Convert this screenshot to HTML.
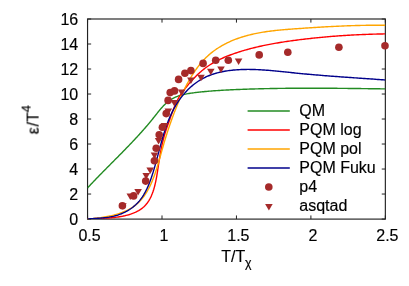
<!DOCTYPE html>
<html><head><meta charset="utf-8"><title>plot</title>
<style>
html,body{margin:0;padding:0;background:#fff;}
svg{display:block;}
text{font-family:"Liberation Sans",sans-serif;font-size:16px;fill:#000;stroke:#000;stroke-width:0.16px;}
</style></head>
<body>
<svg width="409" height="286" viewBox="0 0 409 286">
<rect width="409" height="286" fill="#fff"/>
<defs><clipPath id="c"><rect x="87.55" y="19.0" width="297.8" height="200.1"/></clipPath></defs>
<rect x="87.55" y="19.0" width="297.8" height="200.1" fill="none" stroke="#222" stroke-width="1.15"/>
<path d="M87.55,219.05 h3.6 M385.35,219.05 h-3.6 M87.55,194.04 h3.6 M385.35,194.04 h-3.6 M87.55,169.04 h3.6 M385.35,169.04 h-3.6 M87.55,144.03 h3.6 M385.35,144.03 h-3.6 M87.55,119.03 h3.6 M385.35,119.03 h-3.6 M87.55,94.02 h3.6 M385.35,94.02 h-3.6 M87.55,69.01 h3.6 M385.35,69.01 h-3.6 M87.55,44.01 h3.6 M385.35,44.01 h-3.6 M87.55,19.00 h3.6 M385.35,19.00 h-3.6 M87.55,219.05 v-3.6 M87.55,19.0 v3.6 M162.00,219.05 v-3.6 M162.00,19.0 v3.6 M236.45,219.05 v-3.6 M236.45,19.0 v3.6 M310.90,219.05 v-3.6 M310.90,19.0 v3.6 M385.35,219.05 v-3.6 M385.35,19.0 v3.6" stroke="#222" stroke-width="1.0" fill="none"/>
<g fill="none" stroke-width="1.4" stroke-linejoin="round" clip-path="url(#c)">
<path d="M87.55,187.90 L88.32,187.07 L89.10,186.24 L89.88,185.41 L90.66,184.58 L91.44,183.76 L92.22,182.93 L93.00,182.11 L93.78,181.29 L94.57,180.48 L95.35,179.66 L96.14,178.84 L96.92,178.03 L97.71,177.22 L98.50,176.41 L99.29,175.60 L100.08,174.79 L100.87,173.99 L101.66,173.18 L102.45,172.38 L103.24,171.57 L104.03,170.77 L104.82,169.97 L105.62,169.17 L106.41,168.37 L107.20,167.57 L108.00,166.77 L108.79,165.97 L109.58,165.17 L110.38,164.37 L111.17,163.57 L111.96,162.77 L112.76,161.98 L113.55,161.18 L114.34,160.38 L115.14,159.58 L115.93,158.78 L116.72,157.99 L117.51,157.19 L118.30,156.39 L119.09,155.59 L119.88,154.79 L120.67,153.99 L121.46,153.19 L122.25,152.39 L123.04,151.58 L123.82,150.78 L124.61,149.98 L125.39,149.17 L126.18,148.36 L126.96,147.56 L127.74,146.75 L128.52,145.94 L129.30,145.13 L130.08,144.31 L130.86,143.50 L131.63,142.68 L132.41,141.87 L133.18,141.05 L133.95,140.23 L134.72,139.41 L135.49,138.58 L136.26,137.76 L137.02,136.93 L137.78,136.10 L138.55,135.26 L139.31,134.43 L140.06,133.59 L140.82,132.75 L141.58,131.91 L142.33,131.07 L143.08,130.22 L143.83,129.37 L144.57,128.52 L145.32,127.67 L146.06,126.81 L146.80,125.95 L147.54,125.08 L148.27,124.22 L149.00,123.35 L149.73,122.48 L150.46,121.60 L151.19,120.72 L151.91,119.84 L152.63,118.95 L153.34,118.06 L154.06,117.17 L154.77,116.27 L155.48,115.38 L156.19,114.48 L156.90,113.58 L157.61,112.68 L158.32,111.79 L159.04,110.91 L159.77,110.03 L160.50,109.16 L161.23,108.30 L161.98,107.46 L162.74,106.63 L163.50,105.82 L164.28,105.02 L165.08,104.24 L165.89,103.49 L166.71,102.76 L167.55,102.05 L168.41,101.37 L169.29,100.72 L170.19,100.09 L171.11,99.49 L172.05,98.93 L173.00,98.39 L173.97,97.88 L174.96,97.40 L175.97,96.95 L176.99,96.53 L178.02,96.14 L179.07,95.77 L180.14,95.43 L181.21,95.12 L182.30,94.83 L183.39,94.56 L184.50,94.30 L185.61,94.07 L186.73,93.85 L187.86,93.65 L188.99,93.47 L190.13,93.29 L191.26,93.12 L192.41,92.97 L193.55,92.82 L194.69,92.68 L195.83,92.54 L196.97,92.40 L198.11,92.27 L199.24,92.15 L200.38,92.02 L201.52,91.90 L202.65,91.79 L203.78,91.68 L204.91,91.57 L206.05,91.46 L207.18,91.36 L208.31,91.26 L209.43,91.17 L210.56,91.08 L211.69,90.99 L212.82,90.90 L213.94,90.81 L215.07,90.73 L216.19,90.65 L217.32,90.58 L218.44,90.50 L219.57,90.43 L220.69,90.36 L221.81,90.30 L222.94,90.23 L224.06,90.17 L225.18,90.10 L226.30,90.04 L227.43,89.99 L228.55,89.93 L229.67,89.87 L230.79,89.82 L231.92,89.77 L233.04,89.72 L234.16,89.67 L235.28,89.62 L236.41,89.57 L237.53,89.52 L238.65,89.48 L239.78,89.43 L240.90,89.39 L242.02,89.35 L243.15,89.30 L244.27,89.26 L245.40,89.22 L246.52,89.18 L247.65,89.14 L248.77,89.11 L249.90,89.07 L251.02,89.03 L252.15,89.00 L253.28,88.96 L254.40,88.93 L255.53,88.90 L256.65,88.87 L257.78,88.84 L258.91,88.81 L260.03,88.78 L261.16,88.75 L262.29,88.72 L263.42,88.70 L264.54,88.67 L265.67,88.65 L266.80,88.62 L267.93,88.60 L269.05,88.58 L270.18,88.55 L271.31,88.53 L272.44,88.51 L273.57,88.49 L274.70,88.47 L275.82,88.45 L276.95,88.44 L278.08,88.42 L279.21,88.40 L280.34,88.39 L281.47,88.37 L282.60,88.36 L283.73,88.35 L284.86,88.33 L285.99,88.32 L287.12,88.31 L288.25,88.30 L289.38,88.29 L290.51,88.28 L291.64,88.27 L292.77,88.26 L293.90,88.25 L295.03,88.25 L296.16,88.24 L297.29,88.23 L298.42,88.23 L299.55,88.22 L300.68,88.22 L301.81,88.22 L302.94,88.21 L304.07,88.21 L305.20,88.21 L306.33,88.21 L307.46,88.20 L308.59,88.20 L309.72,88.20 L310.85,88.20 L311.98,88.20 L313.11,88.21 L314.24,88.21 L315.37,88.21 L316.50,88.21 L317.64,88.22 L318.77,88.22 L319.90,88.22 L321.03,88.23 L322.16,88.23 L323.29,88.24 L324.42,88.24 L325.55,88.25 L326.68,88.25 L327.81,88.26 L328.94,88.27 L330.07,88.27 L331.20,88.28 L332.33,88.29 L333.46,88.30 L334.59,88.31 L335.72,88.32 L336.85,88.32 L337.98,88.33 L339.11,88.34 L340.24,88.35 L341.37,88.36 L342.50,88.38 L343.63,88.39 L344.76,88.40 L345.89,88.41 L347.02,88.42 L348.15,88.43 L349.28,88.44 L350.41,88.46 L351.54,88.47 L352.67,88.48 L353.79,88.49 L354.92,88.51 L356.05,88.52 L357.18,88.53 L358.31,88.55 L359.44,88.56 L360.57,88.57 L361.69,88.59 L362.82,88.60 L363.95,88.62 L365.08,88.63 L366.21,88.65 L367.33,88.66 L368.46,88.68 L369.59,88.69 L370.71,88.70 L371.84,88.72 L372.97,88.73 L374.09,88.75 L375.22,88.76 L376.35,88.78 L377.47,88.79 L378.60,88.81 L379.72,88.82 L380.85,88.84 L381.98,88.85 L383.10,88.87 L384.23,88.89 L385.35,88.90" stroke="#228b22"/>
<path d="M87.50,219.00 L88.82,218.90 L90.15,218.82 L91.48,218.74 L92.81,218.67 L94.14,218.60 L95.48,218.55 L96.81,218.49 L98.15,218.44 L99.48,218.38 L100.82,218.33 L102.16,218.28 L103.50,218.22 L104.84,218.16 L106.18,218.09 L107.52,218.01 L108.86,217.93 L110.19,217.83 L111.53,217.73 L112.87,217.61 L114.20,217.48 L115.53,217.33 L116.86,217.17 L118.19,216.98 L119.52,216.78 L120.84,216.56 L122.16,216.32 L123.48,216.05 L124.80,215.76 L126.11,215.44 L127.42,215.09 L128.73,214.72 L130.02,214.31 L131.31,213.88 L132.59,213.41 L133.85,212.91 L135.09,212.37 L136.31,211.80 L137.51,211.19 L138.67,210.54 L139.81,209.85 L140.91,209.12 L141.98,208.34 L143.00,207.53 L143.99,206.67 L144.92,205.76 L145.81,204.81 L146.65,203.81 L147.45,202.77 L148.20,201.70 L148.91,200.59 L149.58,199.44 L150.22,198.27 L150.81,197.07 L151.38,195.84 L151.90,194.59 L152.40,193.33 L152.87,192.05 L153.30,190.75 L153.72,189.45 L154.10,188.14 L154.47,186.82 L154.81,185.50 L155.13,184.18 L155.43,182.86 L155.72,181.55 L155.99,180.23 L156.25,178.91 L156.49,177.60 L156.72,176.28 L156.95,174.96 L157.16,173.65 L157.37,172.33 L157.57,171.02 L157.77,169.70 L157.97,168.38 L158.16,167.07 L158.36,165.75 L158.56,164.43 L158.76,163.11 L158.96,161.79 L159.17,160.48 L159.38,159.16 L159.59,157.84 L159.81,156.52 L160.04,155.21 L160.27,153.89 L160.51,152.58 L160.75,151.26 L161.00,149.95 L161.26,148.64 L161.52,147.33 L161.80,146.03 L162.08,144.72 L162.37,143.42 L162.68,142.12 L162.99,140.82 L163.32,139.52 L163.65,138.23 L164.00,136.94 L164.36,135.66 L164.74,134.38 L165.12,133.10 L165.52,131.82 L165.92,130.54 L166.34,129.27 L166.76,128.00 L167.19,126.73 L167.63,125.47 L168.07,124.20 L168.52,122.93 L168.97,121.67 L169.42,120.40 L169.88,119.14 L170.33,117.87 L170.79,116.61 L171.24,115.34 L171.69,114.07 L172.15,112.81 L172.61,111.54 L173.08,110.28 L173.55,109.02 L174.03,107.77 L174.53,106.53 L175.04,105.30 L175.57,104.07 L176.11,102.86 L176.68,101.66 L177.27,100.47 L177.88,99.30 L178.52,98.14 L179.19,97.00 L179.87,95.87 L180.59,94.76 L181.32,93.66 L182.07,92.57 L182.84,91.49 L183.63,90.42 L184.43,89.36 L185.25,88.30 L186.08,87.26 L186.92,86.22 L187.77,85.19 L188.64,84.16 L189.51,83.14 L190.39,82.13 L191.29,81.12 L192.19,80.13 L193.10,79.14 L194.03,78.16 L194.96,77.19 L195.91,76.23 L196.87,75.29 L197.84,74.36 L198.82,73.44 L199.81,72.54 L200.82,71.66 L201.83,70.79 L202.86,69.94 L203.91,69.10 L204.96,68.29 L206.03,67.49 L207.11,66.71 L208.20,65.96 L209.31,65.23 L210.42,64.51 L211.55,63.82 L212.69,63.14 L213.85,62.48 L215.01,61.83 L216.18,61.21 L217.36,60.59 L218.55,60.00 L219.75,59.42 L220.95,58.85 L222.17,58.29 L223.39,57.75 L224.62,57.23 L225.85,56.71 L227.09,56.21 L228.33,55.72 L229.58,55.24 L230.84,54.77 L232.09,54.31 L233.36,53.86 L234.62,53.42 L235.89,52.98 L237.16,52.56 L238.43,52.15 L239.70,51.74 L240.98,51.34 L242.26,50.95 L243.54,50.57 L244.82,50.19 L246.10,49.82 L247.39,49.46 L248.68,49.11 L249.97,48.76 L251.26,48.43 L252.55,48.09 L253.85,47.77 L255.15,47.45 L256.45,47.14 L257.75,46.83 L259.05,46.53 L260.35,46.24 L261.66,45.95 L262.97,45.67 L264.27,45.40 L265.58,45.13 L266.89,44.86 L268.21,44.61 L269.52,44.35 L270.83,44.10 L272.15,43.86 L273.47,43.62 L274.78,43.39 L276.10,43.16 L277.42,42.94 L278.74,42.72 L280.06,42.50 L281.38,42.29 L282.71,42.08 L284.03,41.88 L285.35,41.68 L286.68,41.48 L288.00,41.28 L289.33,41.09 L290.65,40.91 L291.98,40.72 L293.30,40.54 L294.63,40.36 L295.96,40.19 L297.28,40.02 L298.61,39.85 L299.94,39.68 L301.27,39.51 L302.59,39.35 L303.92,39.19 L305.25,39.03 L306.58,38.88 L307.91,38.73 L309.24,38.58 L310.56,38.43 L311.89,38.28 L313.22,38.14 L314.55,38.00 L315.88,37.86 L317.21,37.73 L318.54,37.60 L319.87,37.47 L321.20,37.34 L322.53,37.21 L323.87,37.09 L325.20,36.97 L326.53,36.85 L327.86,36.74 L329.19,36.63 L330.52,36.52 L331.86,36.41 L333.19,36.30 L334.52,36.20 L335.85,36.10 L337.19,36.00 L338.52,35.90 L339.85,35.81 L341.19,35.71 L342.52,35.62 L343.85,35.54 L345.19,35.45 L346.52,35.37 L347.86,35.29 L349.19,35.21 L350.53,35.13 L351.86,35.06 L353.20,34.99 L354.53,34.92 L355.87,34.85 L357.20,34.79 L358.54,34.72 L359.88,34.66 L361.21,34.60 L362.55,34.55 L363.89,34.49 L365.22,34.44 L366.56,34.39 L367.90,34.34 L369.23,34.29 L370.57,34.25 L371.91,34.21 L373.25,34.17 L374.59,34.13 L375.93,34.09 L377.26,34.06 L378.60,34.03 L379.94,34.00 L381.28,33.97 L382.62,33.95 L383.96,33.92 L385.30,33.90" stroke="#ff0000"/>
<path d="M87.50,219.00 L88.76,218.91 L90.04,218.81 L91.32,218.70 L92.63,218.58 L93.94,218.45 L95.26,218.32 L96.59,218.17 L97.93,218.01 L99.28,217.84 L100.63,217.66 L101.99,217.46 L103.35,217.25 L104.71,217.03 L106.07,216.79 L107.44,216.53 L108.80,216.26 L110.15,215.97 L111.51,215.67 L112.86,215.34 L114.20,215.00 L115.53,214.63 L116.86,214.25 L118.18,213.84 L119.48,213.41 L120.78,212.96 L122.06,212.49 L123.32,211.99 L124.57,211.47 L125.80,210.93 L127.02,210.36 L128.21,209.76 L129.39,209.13 L130.54,208.48 L131.67,207.80 L132.78,207.09 L133.86,206.35 L134.92,205.58 L135.95,204.78 L136.94,203.94 L137.92,203.08 L138.86,202.18 L139.77,201.26 L140.66,200.31 L141.52,199.33 L142.36,198.32 L143.17,197.30 L143.96,196.24 L144.72,195.17 L145.46,194.07 L146.18,192.95 L146.88,191.81 L147.56,190.65 L148.21,189.48 L148.85,188.29 L149.47,187.08 L150.07,185.86 L150.65,184.63 L151.21,183.38 L151.76,182.13 L152.30,180.86 L152.81,179.58 L153.32,178.30 L153.81,177.01 L154.28,175.71 L154.75,174.41 L155.20,173.11 L155.64,171.80 L156.07,170.49 L156.49,169.18 L156.91,167.87 L157.31,166.56 L157.70,165.26 L158.09,163.96 L158.47,162.66 L158.85,161.37 L159.22,160.07 L159.59,158.79 L159.95,157.50 L160.31,156.22 L160.67,154.94 L161.03,153.65 L161.39,152.38 L161.74,151.10 L162.10,149.82 L162.46,148.54 L162.83,147.26 L163.19,145.98 L163.56,144.70 L163.93,143.42 L164.31,142.14 L164.69,140.86 L165.08,139.58 L165.47,138.29 L165.87,137.01 L166.27,135.73 L166.67,134.44 L167.08,133.16 L167.49,131.88 L167.91,130.60 L168.33,129.32 L168.75,128.05 L169.18,126.77 L169.61,125.50 L170.04,124.23 L170.48,122.96 L170.92,121.69 L171.37,120.43 L171.82,119.16 L172.27,117.90 L172.73,116.65 L173.20,115.39 L173.67,114.14 L174.14,112.88 L174.62,111.63 L175.11,110.39 L175.60,109.14 L176.09,107.90 L176.59,106.65 L177.10,105.41 L177.61,104.17 L178.13,102.94 L178.66,101.70 L179.19,100.47 L179.73,99.24 L180.28,98.01 L180.83,96.78 L181.39,95.56 L181.96,94.33 L182.53,93.11 L183.11,91.89 L183.70,90.67 L184.30,89.45 L184.91,88.24 L185.52,87.02 L186.14,85.82 L186.78,84.61 L187.42,83.41 L188.07,82.22 L188.73,81.03 L189.40,79.85 L190.08,78.68 L190.78,77.51 L191.48,76.35 L192.19,75.19 L192.92,74.05 L193.66,72.92 L194.40,71.79 L195.17,70.68 L195.94,69.57 L196.73,68.48 L197.53,67.40 L198.34,66.33 L199.17,65.27 L200.01,64.23 L200.86,63.20 L201.73,62.18 L202.61,61.18 L203.51,60.20 L204.43,59.23 L205.36,58.27 L206.30,57.33 L207.26,56.41 L208.24,55.51 L209.23,54.63 L210.24,53.76 L211.27,52.91 L212.31,52.08 L213.37,51.27 L214.45,50.48 L215.54,49.71 L216.64,48.95 L217.75,48.21 L218.88,47.49 L220.03,46.79 L221.18,46.10 L222.35,45.44 L223.52,44.79 L224.71,44.15 L225.91,43.53 L227.11,42.93 L228.33,42.35 L229.55,41.78 L230.79,41.23 L232.03,40.70 L233.27,40.18 L234.52,39.68 L235.78,39.19 L237.05,38.72 L238.32,38.26 L239.59,37.82 L240.87,37.40 L242.15,36.99 L243.44,36.59 L244.72,36.21 L246.02,35.84 L247.31,35.49 L248.61,35.15 L249.91,34.82 L251.22,34.50 L252.52,34.20 L253.83,33.91 L255.15,33.63 L256.46,33.36 L257.78,33.10 L259.10,32.85 L260.42,32.61 L261.75,32.39 L263.07,32.17 L264.40,31.96 L265.73,31.76 L267.07,31.56 L268.40,31.38 L269.74,31.20 L271.07,31.03 L272.41,30.87 L273.75,30.71 L275.09,30.56 L276.43,30.41 L277.78,30.28 L279.12,30.14 L280.47,30.01 L281.81,29.89 L283.16,29.77 L284.50,29.65 L285.85,29.54 L287.20,29.43 L288.54,29.32 L289.89,29.22 L291.24,29.11 L292.59,29.01 L293.93,28.91 L295.28,28.81 L296.62,28.72 L297.97,28.62 L299.31,28.52 L300.66,28.43 L302.00,28.33 L303.35,28.24 L304.69,28.15 L306.03,28.06 L307.38,27.97 L308.72,27.88 L310.06,27.79 L311.40,27.70 L312.75,27.61 L314.09,27.53 L315.43,27.44 L316.77,27.36 L318.11,27.28 L319.45,27.20 L320.79,27.12 L322.13,27.04 L323.47,26.96 L324.81,26.88 L326.16,26.81 L327.50,26.74 L328.84,26.66 L330.18,26.59 L331.52,26.52 L332.86,26.46 L334.20,26.39 L335.54,26.33 L336.88,26.26 L338.22,26.20 L339.56,26.14 L340.90,26.08 L342.24,26.02 L343.58,25.97 L344.92,25.92 L346.26,25.86 L347.60,25.81 L348.95,25.76 L350.29,25.72 L351.63,25.67 L352.97,25.63 L354.31,25.59 L355.66,25.55 L357.00,25.51 L358.34,25.48 L359.69,25.44 L361.03,25.41 L362.37,25.38 L363.72,25.35 L365.06,25.33 L366.41,25.30 L367.76,25.28 L369.10,25.26 L370.45,25.24 L371.80,25.23 L373.14,25.22 L374.49,25.20 L375.84,25.20 L377.19,25.19 L378.54,25.19 L379.89,25.18 L381.24,25.18 L382.59,25.19 L383.95,25.19 L385.30,25.20" stroke="#ffa500"/>
<path d="M87.50,219.00 L88.77,218.90 L90.04,218.81 L91.31,218.73 L92.59,218.65 L93.86,218.57 L95.14,218.49 L96.41,218.41 L97.69,218.32 L98.96,218.24 L100.23,218.14 L101.51,218.04 L102.78,217.92 L104.05,217.79 L105.32,217.65 L106.58,217.50 L107.85,217.32 L109.11,217.13 L110.36,216.91 L111.62,216.67 L112.87,216.41 L114.12,216.12 L115.36,215.80 L116.60,215.46 L117.83,215.08 L119.06,214.66 L120.29,214.21 L121.50,213.73 L122.71,213.22 L123.90,212.67 L125.09,212.09 L126.25,211.48 L127.40,210.84 L128.53,210.17 L129.64,209.47 L130.72,208.75 L131.78,208.00 L132.82,207.22 L133.82,206.41 L134.80,205.58 L135.74,204.73 L136.65,203.85 L137.53,202.95 L138.38,202.03 L139.20,201.09 L139.99,200.13 L140.75,199.14 L141.49,198.14 L142.21,197.12 L142.89,196.09 L143.56,195.03 L144.20,193.96 L144.82,192.88 L145.42,191.78 L146.00,190.67 L146.56,189.54 L147.11,188.41 L147.63,187.26 L148.14,186.10 L148.63,184.93 L149.11,183.75 L149.58,182.56 L150.03,181.37 L150.47,180.17 L150.90,178.96 L151.33,177.75 L151.74,176.53 L152.14,175.31 L152.54,174.08 L152.92,172.85 L153.31,171.62 L153.68,170.39 L154.05,169.15 L154.42,167.91 L154.78,166.67 L155.13,165.43 L155.48,164.18 L155.83,162.94 L156.17,161.69 L156.51,160.44 L156.85,159.19 L157.19,157.94 L157.52,156.69 L157.85,155.44 L158.19,154.18 L158.52,152.93 L158.85,151.68 L159.18,150.43 L159.51,149.18 L159.84,147.93 L160.18,146.68 L160.51,145.43 L160.85,144.19 L161.19,142.94 L161.54,141.70 L161.88,140.46 L162.23,139.22 L162.59,137.99 L162.95,136.75 L163.31,135.52 L163.69,134.30 L164.06,133.07 L164.44,131.85 L164.83,130.64 L165.23,129.42 L165.63,128.21 L166.04,127.01 L166.46,125.81 L166.89,124.61 L167.33,123.42 L167.78,122.24 L168.23,121.06 L168.70,119.88 L169.18,118.71 L169.67,117.55 L170.17,116.39 L170.68,115.24 L171.21,114.10 L171.74,112.96 L172.29,111.83 L172.86,110.70 L173.43,109.59 L174.03,108.48 L174.63,107.38 L175.26,106.28 L175.89,105.20 L176.55,104.12 L177.22,103.05 L177.90,101.99 L178.61,100.94 L179.33,99.90 L180.07,98.86 L180.82,97.84 L181.60,96.83 L182.39,95.82 L183.21,94.83 L184.04,93.85 L184.90,92.87 L185.77,91.91 L186.66,90.97 L187.56,90.04 L188.49,89.12 L189.43,88.22 L190.39,87.34 L191.36,86.48 L192.35,85.63 L193.36,84.81 L194.38,84.00 L195.41,83.22 L196.46,82.46 L197.52,81.72 L198.59,81.01 L199.68,80.32 L200.78,79.66 L201.89,79.02 L203.01,78.41 L204.15,77.83 L205.29,77.26 L206.44,76.73 L207.61,76.22 L208.78,75.73 L209.96,75.26 L211.15,74.81 L212.34,74.39 L213.55,73.99 L214.76,73.61 L215.98,73.25 L217.20,72.91 L218.43,72.58 L219.66,72.28 L220.90,72.00 L222.14,71.73 L223.39,71.48 L224.64,71.25 L225.90,71.04 L227.16,70.84 L228.42,70.65 L229.68,70.48 L230.95,70.33 L232.22,70.19 L233.49,70.06 L234.76,69.95 L236.04,69.85 L237.31,69.76 L238.59,69.68 L239.87,69.61 L241.14,69.56 L242.42,69.51 L243.70,69.47 L244.97,69.45 L246.25,69.43 L247.53,69.42 L248.80,69.42 L250.08,69.43 L251.36,69.45 L252.63,69.47 L253.91,69.51 L255.19,69.55 L256.46,69.60 L257.74,69.65 L259.02,69.71 L260.29,69.78 L261.57,69.85 L262.84,69.93 L264.12,70.02 L265.40,70.11 L266.67,70.20 L267.95,70.30 L269.23,70.41 L270.50,70.51 L271.78,70.62 L273.06,70.74 L274.33,70.86 L275.61,70.98 L276.88,71.10 L278.16,71.23 L279.44,71.36 L280.71,71.49 L281.99,71.62 L283.26,71.75 L284.54,71.89 L285.82,72.02 L287.09,72.15 L288.37,72.29 L289.64,72.42 L290.92,72.56 L292.19,72.69 L293.47,72.82 L294.74,72.96 L296.02,73.09 L297.29,73.21 L298.57,73.34 L299.84,73.46 L301.12,73.59 L302.39,73.71 L303.67,73.83 L304.94,73.95 L306.22,74.07 L307.49,74.18 L308.77,74.30 L310.04,74.41 L311.32,74.52 L312.59,74.64 L313.86,74.75 L315.14,74.85 L316.41,74.96 L317.69,75.07 L318.96,75.17 L320.24,75.28 L321.51,75.38 L322.79,75.48 L324.06,75.59 L325.33,75.69 L326.61,75.79 L327.88,75.89 L329.16,75.98 L330.43,76.08 L331.71,76.18 L332.98,76.27 L334.25,76.37 L335.53,76.46 L336.80,76.56 L338.08,76.65 L339.35,76.74 L340.63,76.84 L341.90,76.93 L343.18,77.02 L344.45,77.11 L345.73,77.20 L347.00,77.29 L348.28,77.38 L349.55,77.47 L350.83,77.56 L352.10,77.65 L353.38,77.74 L354.65,77.83 L355.93,77.92 L357.20,78.01 L358.48,78.09 L359.76,78.18 L361.03,78.27 L362.31,78.36 L363.58,78.45 L364.86,78.54 L366.14,78.63 L367.41,78.72 L368.69,78.81 L369.97,78.89 L371.24,78.98 L372.52,79.07 L373.80,79.17 L375.08,79.26 L376.35,79.35 L377.63,79.44 L378.91,79.53 L380.19,79.62 L381.46,79.72 L382.74,79.81 L384.02,79.91 L385.30,80.00" stroke="#00008b"/>
</g>
<g fill="#a52a2a">
<circle cx="122.4" cy="205.8" r="3.8"/>
<circle cx="133.6" cy="195.9" r="3.8"/>
<circle cx="145.7" cy="181.1" r="3.8"/>
<circle cx="154.4" cy="160.7" r="3.8"/>
<circle cx="156.2" cy="148.3" r="3.8"/>
<circle cx="159.2" cy="134.8" r="3.8"/>
<circle cx="162.4" cy="127.2" r="3.8"/>
<circle cx="166.2" cy="113.6" r="3.8"/>
<circle cx="168.1" cy="100.4" r="3.8"/>
<circle cx="170.2" cy="92.6" r="3.8"/>
<circle cx="174.5" cy="90.9" r="3.8"/>
<circle cx="178.6" cy="79.4" r="3.8"/>
<circle cx="184.9" cy="73.2" r="3.8"/>
<circle cx="190.9" cy="70.6" r="3.8"/>
<circle cx="203.1" cy="63.4" r="3.8"/>
<circle cx="215.7" cy="60.3" r="3.8"/>
<circle cx="228.3" cy="60.3" r="3.8"/>
<circle cx="259.2" cy="54.9" r="3.8"/>
<circle cx="287.8" cy="52.3" r="3.8"/>
<circle cx="338.9" cy="47.3" r="3.8"/>
<circle cx="385.0" cy="45.7" r="3.8"/>
<path d="M119.1,203.3 L126.7,203.3 L122.9,209.8 Z"/>
<path d="M126.5,193.4 L134.1,193.4 L130.3,199.9 Z"/>
<path d="M134.3,189.1 L141.9,189.1 L138.1,195.6 Z"/>
<path d="M142.4,173.1 L150.0,173.1 L146.2,179.6 Z"/>
<path d="M146.4,167.4 L154.0,167.4 L150.2,173.9 Z"/>
<path d="M150.7,152.4 L158.3,152.4 L154.5,158.9 Z"/>
<path d="M154.8,137.9 L162.4,137.9 L158.6,144.4 Z"/>
<path d="M160.7,122.9 L168.3,122.9 L164.5,129.4 Z"/>
<path d="M164.5,108.5 L172.1,108.5 L168.3,115.0 Z"/>
<path d="M170.5,99.9 L178.1,99.9 L174.3,106.4 Z"/>
<path d="M177.9,89.6 L185.5,89.6 L181.7,96.1 Z"/>
<path d="M187.1,77.4 L194.7,77.4 L190.9,83.9 Z"/>
<path d="M197.2,74.7 L204.8,74.7 L201.0,81.2 Z"/>
<path d="M207.0,68.8 L214.6,68.8 L210.8,75.3 Z"/>
<path d="M217.2,66.4 L224.8,66.4 L221.0,72.9 Z"/>
<path d="M234.8,58.4 L242.4,58.4 L238.6,64.9 Z"/>
</g>
<path d="M247.6,111.0 H289.8" stroke="#228b22" stroke-width="1.4" fill="none"/>
<path d="M247.6,130.0 H289.8" stroke="#ff0000" stroke-width="1.4" fill="none"/>
<path d="M247.6,149.0 H289.8" stroke="#ffa500" stroke-width="1.4" fill="none"/>
<path d="M247.6,168.0 H289.8" stroke="#00008b" stroke-width="1.4" fill="none"/>
<circle cx="268.8" cy="187.0" r="3.8" fill="#a52a2a"/>
<g fill="#a52a2a"><path d="M265.1,204.0 L272.7,204.0 L268.9,210.5 Z"/></g>
<g style="filter:grayscale(1)">
<text x="78.2" y="225.1" text-anchor="end">0</text>
<text x="78.2" y="200.0" text-anchor="end">2</text>
<text x="78.2" y="175.0" text-anchor="end">4</text>
<text x="78.2" y="150.0" text-anchor="end">6</text>
<text x="78.2" y="125.0" text-anchor="end">8</text>
<text x="78.2" y="100.0" text-anchor="end">10</text>
<text x="78.2" y="75.0" text-anchor="end">12</text>
<text x="78.2" y="50.0" text-anchor="end">14</text>
<text x="78.2" y="25.0" text-anchor="end">16</text>
<text x="89.5" y="240.5" text-anchor="middle">0.5</text>
<text x="164.0" y="240.5" text-anchor="middle">1</text>
<text x="238.4" y="240.5" text-anchor="middle">1.5</text>
<text x="312.9" y="240.5" text-anchor="middle">2</text>
<text x="387.4" y="240.5" text-anchor="middle">2.5</text>
<text x="221.3" y="262.3">T/T<tspan font-size="12.4" dy="5.0" dx="-0.4">χ</tspan></text>
<text transform="translate(38.6,134.3) rotate(-90)">ε<tspan dx="0.7">/T</tspan><tspan font-size="12.8" dy="-7.9">4</tspan></text>
<text x="299.3" y="116.2">QM</text>
<text x="299.3" y="135.2">PQM log</text>
<text x="299.3" y="154.2">PQM pol</text>
<text x="299.3" y="173.2">PQM Fuku</text>
<text x="299.3" y="192.2">p4</text>
<text x="299.3" y="211.2">asqtad</text>
</g>
</svg>
</body></html>
